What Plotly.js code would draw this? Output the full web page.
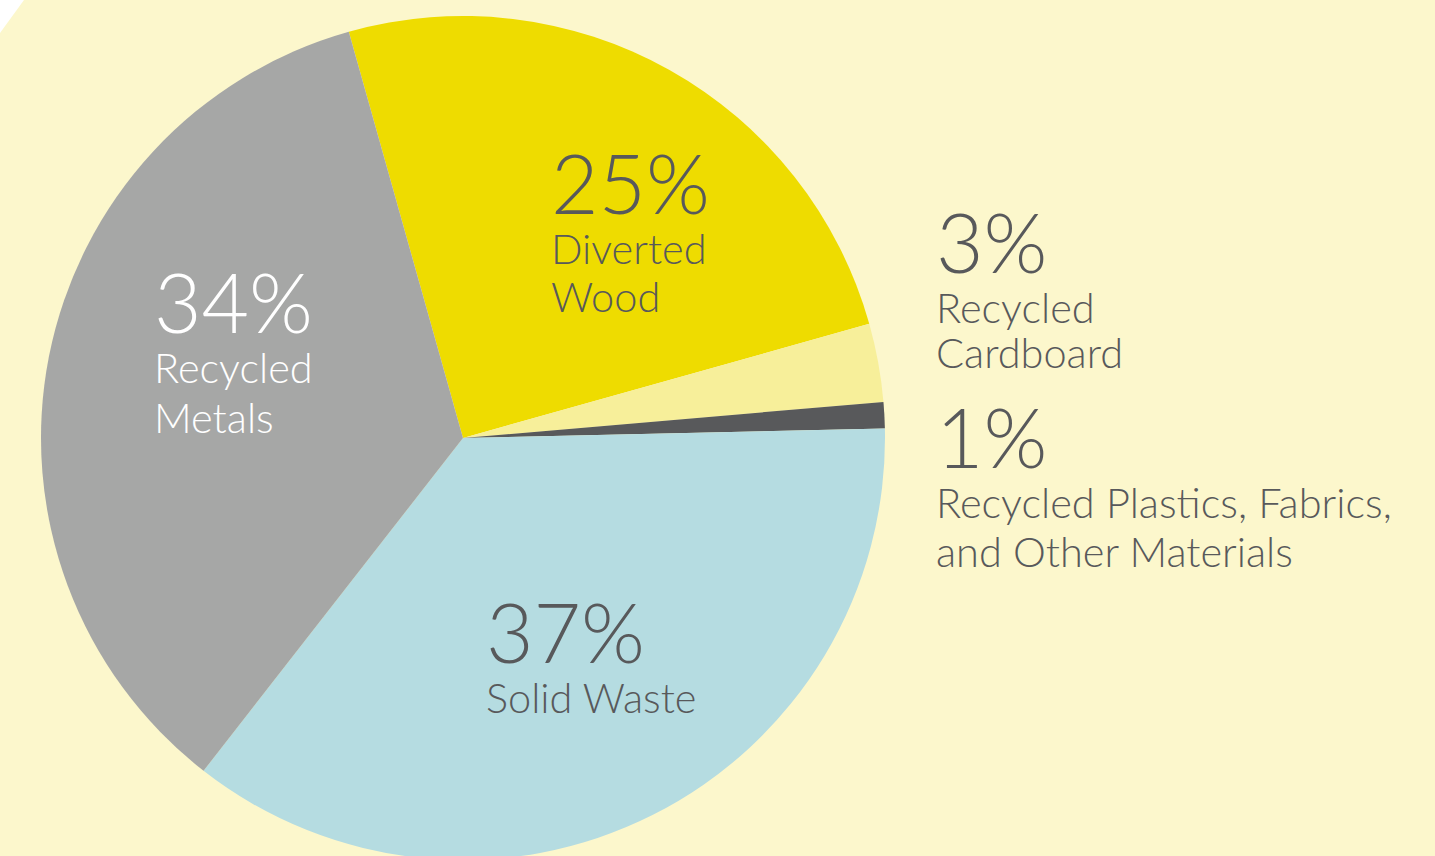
<!DOCTYPE html>
<html>
<head>
<meta charset="utf-8">
<script src="https://cdn.plot.ly/plotly-3.0.1.min.js"></script>
<style>
  html, body { margin: 0; padding: 0; background: #FCF7CC; overflow: hidden; }
  #wrap { width: 1435px; height: 856px; overflow: hidden; position: relative; }
  #chart { width: 1435px; height: 870px; }
</style>
</head>
<body>
<div id="wrap"><div id="chart"></div></div>
<script>
// ---- data ----
const categories = ["Diverted Wood", "Recycled Cardboard", "Recycled Plastics, Fabrics, and Other Materials", "Solid Waste", "Recycled Metals"];
// slice shares as drawn in the picture (angles)
const values = [25, 3, 1, 35.9, 35.1];
// percentages as printed on the chart
const percentLabels = ["25%", "3%", "1%", "37%", "34%"];
const labelLines = [
  ["Diverted", "Wood"],
  ["Recycled", "Cardboard"],
  ["Recycled Plastics, Fabrics,", "and Other Materials"],
  ["Solid Waste"],
  ["Recycled", "Metals"]
];
const sliceColors = ["#EEDC00", "#F7EF9A", "#58595B", "#B5DCE1", "#A6A7A6"];
const textColors = ["#58595B", "#58595B", "#58595B", "#58595B", "#FFFFFF"];

// ---- layout (pixel positions of each label block: left x, baseline of the percent) ----
const W = 1435, H = 870;
const labelAnchor = [
  {x: 550, y: 214, first: 50, gap: 48},
  {x: 935, y: 273, first: 50, gap: 45},
  {x: 935, y: 468, first: 50, gap: 49},
  {x: 485, y: 663, first: 50, gap: 49},
  {x: 153, y: 333, first: 50, gap: 50}
];
const bigSize = 82, smallSize = 41.5;
const FONT = "Lato, 'Open Sans', sans-serif";

const annotations = [];
function addText(txt, px, baseline, size, color) {
  annotations.push({
    text: txt, xref: "paper", yref: "paper",
    x: px / W, y: 1 - (baseline - 0.387 * size) / H,
    xanchor: "left", yanchor: "middle", showarrow: false,
    font: {family: FONT, size: size, color: color, weight: 300},
    borderpad: 0
  });
}
percentLabels.forEach((p, i) => {
  const a = labelAnchor[i];
  addText(p, a.x, a.y, bigSize, textColors[i]);
  labelLines[i].forEach((ln, j) => {
    addText(ln, a.x, a.y + a.first + j * a.gap, smallSize, textColors[i]);
  });
});

const cx = 463, cy = 438, r = 422;
const trace = {
  type: "pie",
  labels: categories,
  values: values,
  sort: false,
  direction: "clockwise",
  rotation: -15.7,
  textinfo: "none",
  hoverinfo: "label",
  marker: {colors: sliceColors, line: {width: 0}},
  showlegend: false,
  domain: {x: [(cx - r) / W, (cx + r) / W], y: [1 - (cy + r) / H, 1 - (cy - r) / H]}
};

const layout = {
  width: W, height: H,
  margin: {l: 0, r: 0, t: 0, b: 0},
  paper_bgcolor: "#FCF7CC",
  plot_bgcolor: "#FCF7CC",
  showlegend: false,
  annotations: annotations,
  shapes: [{
    type: "path", xref: "paper", yref: "paper",
    path: "M 0 1 L " + (24 / W) + " 1 L 0 " + (1 - 33 / H) + " Z",
    fillcolor: "#FFFFFF", line: {width: 0}
  }]
};

Plotly.newPlot("chart", [trace], layout, {displayModeBar: false, staticPlot: true});
</script>
</body>
</html>
